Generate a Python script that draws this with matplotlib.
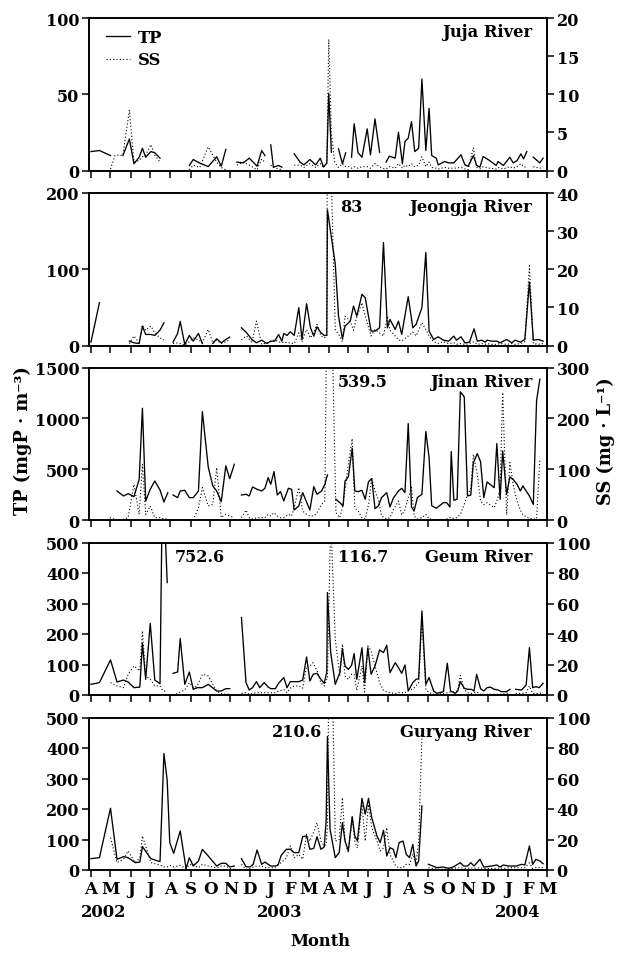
import numpy as np
import pandas as pd
import matplotlib
matplotlib.use('Agg')
import matplotlib.pyplot as plt
import matplotlib.transforms as mtransforms
from matplotlib.lines import Line2D

plt.rcParams['font.family'] = ['DejaVu Serif']
plt.rcParams['font.weight'] = 'bold'
plt.rcParams['font.size'] = 11

# ---- data (days since 1 April 2002, TP in mgP/m3, SS in mg/L) ----
month_labels = ['A', 'M', 'J', 'J', 'A', 'S', 'O', 'N', 'D', 'J', 'F', 'M',
                'A', 'M', 'J', 'J', 'A', 'S', 'O', 'N', 'D', 'J', 'F', 'M']
year_labels = ['2002', '2003', '2004']
year_days = [20, 290, 655]

juja_days = [0, 13, 30, 37, 43, 49, 59, 66, 74, 79,
             84, 92, 98, 106, 128, 151, 157, 167, 180, 193,
             200, 207, 215, 224, 234, 243, 255, 262, 267, 271,
             276, 280, 288, 293, 300, 312, 321, 327, 336, 345,
             352, 357, 362, 365, 369, 374, 380, 386, 391, 396,
             400, 404, 410, 416, 424, 429, 436, 443, 448, 453,
             458, 467, 472, 478, 482, 487, 492, 497, 503, 508,
             514, 519, 523, 530, 533, 543, 549, 557, 568, 574,
             579, 587, 592, 597, 602, 612, 622, 625, 633, 643,
             648, 654, 660, 664, 669, 674, 679, 689, 694]
juja_tp = [12.4, 13.1, 9.8, None, None, 9.8, 20.7, 4.4, 8.7, 14.6,
           8.7, 12.4, 11.6, 8.1, None, 3.3, 7.2, 4.8, 2.6, 9.0,
           2.8, 13.8, None, 5.5, 5.0, 8.1, 2.8, 13.1, 9.8, None,
           16.8, 2.2, 3.3, 2.2, None, 10.9, 5.5, 3.7, 7.2, 3.7,
           8.1, 2.2, 5.0, 50.6, 12.0, None, 14.2, 4.4, 11.6, None,
           8.7, 30.6, 11.6, 8.7, 27.3, 10.3, 33.8, 12.0, None, 5.5,
           9.4, 8.1, 25.1, 4.4, 19.0, 21.2, 32.1, 12.4, 14.6, 60.0,
           13.1, 40.8, 9.8, 8.1, 3.7, 5.9, 5.0, 5.0, 10.3, 3.7,
           2.8, 9.8, 3.3, 2.2, 9.2, 6.5, 3.3, 5.9, 3.3, 8.7,
           5.0, 6.5, 10.9, 7.6, 12.4, None, 8.7, 5.0, 8.1]
juja_ss = [None, None, 0.2, 2.0, 2.0, 2.0, 7.9, 1.1, 1.3, 1.8,
           2.0, 3.4, 2.0, 1.1, None, 0.1, 0.7, 0.4, 3.1, 1.1,
           0.4, 0.1, None, 0.7, 1.1, 0.7, 0.1, 1.5, 1.1, None,
           0.7, 0.4, 0.2, 0.1, None, 0.7, 0.7, 0.4, 0.9, 0.4,
           0.9, 0.4, 0.9, 17.2, 5.0, 1.1, 0.4, 0.9, 0.5, 0.5,
           0.3, 0.5, 0.3, 0.5, 0.5, 0.3, 0.9, 0.5, 0.3, 0.2,
           0.5, 0.3, 0.9, 0.3, 0.7, 0.5, 0.9, 0.5, 0.7, 1.8,
           0.5, 1.1, 0.4, 0.3, 0.2, 0.4, 0.3, 0.3, 0.4, 0.2,
           0.1, 3.0, 0.4, 0.2, 0.5, 0.3, 0.2, 0.4, 0.2, 0.5,
           0.3, 0.5, 0.9, 0.5, 0.4, None, 0.5, 0.3, 0.5]

jeongja_days = [0, 13, 30, 59, 66, 74, 79, 84, 92, 98,
                106, 112, 119, 126, 133, 137, 144, 151, 157, 165,
                171, 180, 187, 193, 200, 207, 213, 222, 231, 239,
                247, 254, 262, 270, 276, 282, 288, 293, 296, 301,
                306, 312, 319, 324, 331, 337, 342, 347, 353, 358,
                362, 363, 375, 380, 386, 390, 398, 403, 408, 416,
                421, 430, 436, 443, 449, 455, 459, 467, 472, 477,
                487, 494, 499, 508, 514, 519, 526, 533, 541, 549,
                557, 561, 568, 574, 581, 588, 593, 600, 605, 608,
                615, 623, 628, 638, 646, 651, 659, 666, 673, 679,
                687, 694]
jeongja_tp = [4.4, 56.1, None, 5.7, 3.5, 2.6, 25.4, 14.5, 14.5, 13.2,
              20.2, 29.8, None, 4.4, 15.8, 31.6, 1.3, 13.2, 5.7, 15.8,
              2.6, None, 2.6, 8.8, 3.5, 7.9, 11.0, None, 23.2, 16.7,
              7.9, 3.5, 7.0, 2.6, 5.7, 5.7, 14.5, 5.7, 15.8, 13.2,
              18.0, 13.2, 49.6, 7.9, 54.8, 23.2, 12.3, 24.6, 16.7, 13.2,
              13.2, 178.0, 106.6, 38.6, 8.8, 25.4, 32.0, 51.8, 38.6, 67.1,
              62.7, 18.9, 18.9, 23.2, 135.0, 23.2, 34.2, 21.0, 32.0, 14.5,
              64.0, 23.2, 27.6, 49.6, 122.0, 18.9, 7.9, 11.4, 7.0, 5.7,
              12.3, 7.0, 11.4, 3.5, 4.4, 21.9, 5.7, 7.0, 4.4, 7.0,
              5.7, 5.7, 3.5, 7.9, 3.5, 7.0, 4.4, 7.9, 83.3, 7.0,
              7.9, 5.7]
jeongja_ss = [None, None, None, 0.5, 2.5, 0.7, 5.3, 4.0, 5.1, 3.3,
              2.0, 1.5, None, 0.5, 0.7, 0.5, 0.1, 1.0, 2.0, 1.5,
              0.7, 4.2, 0.7, 1.5, 0.5, 1.0, 1.5, None, 1.5, 2.5,
              0.7, 6.4, 0.3, 0.7, 1.0, 1.5, 1.0, 0.7, 1.0, 0.7,
              0.7, 0.5, 3.3, 1.0, 4.2, 2.0, 3.5, 5.5, 2.5, 2.0,
              2.5, 83.0, 4.2, 3.0, 1.0, 7.7, 6.4, 4.0, 7.5, 11.2,
              7.7, 2.5, 4.2, 3.3, 2.5, 7.7, 4.0, 2.5, 1.5, 1.2,
              2.5, 3.5, 2.5, 6.0, 4.2, 2.5, 1.0, 0.5, 1.0, 0.5,
              0.7, 0.3, 0.5, 0.3, 0.5, 1.0, 0.3, 0.5, 0.3, 0.5,
              0.3, 0.3, 0.5, 0.3, 0.5, 0.3, 0.5, 1.0, 20.9, 0.5,
              0.3, 0.5]

jinan_days = [29, 40, 50, 57, 66, 74, 79, 84, 91, 98,
              106, 112, 118, 122, 126, 133, 137, 144, 151, 157,
              165, 171, 180, 187, 193, 200, 207, 213, 220, 225,
              231, 238, 243, 248, 255, 262, 267, 272, 276, 281,
              286, 291, 296, 303, 308, 312, 319, 325, 331, 336,
              342, 347, 354, 359, 363, 371, 376, 382, 387, 390,
              395, 401, 405, 410, 416, 421, 426, 431, 436, 441,
              446, 454, 459, 464, 472, 477, 482, 487, 492, 496,
              501, 508, 514, 519, 523, 530, 541, 546, 551, 553,
              557, 562, 567, 573, 578, 583, 587, 593, 598, 603,
              608, 619, 623, 628, 632, 638, 643, 648, 654, 659,
              663, 673, 679, 684, 689]
jinan_tp = [None, 285.5, 236, 259, 230, 400, 1099, 187, 302, 384,
            295, 177, 269, None, 246, 220, 285.5, 292, 220, 220,
            285.5, 1067, 522, 335, 285.5, 180.5, 532, 407, 548, None,
            246, 253, 236, 325, 302, 285.5, 312, 417, 351, 476,
            246, 279, 187, 312, 302, 98.5, 138, 269, 177, 98.5,
            328, 253, 285.5, 351, 443, None, 203.5, 170.7, 138, 384,
            423, 706, 285.5, 279, 292, 203.5, 377, 407, 111.6, 138,
            220, 269, 128, 213, 285.5, 312, 269, 948, 128, 88.6,
            220, 253, 870, 614, 141, 115, 171, 171, 128, 673,
            194, 203.5, 1260, 1211, 236, 246, 564.5, 653, 574, 220,
            374, 318, 751.6, 203.5, 679, 253, 423, 400, 351, 285.5,
            335, 236, 154, 1172, 1385]
jinan_ss = [4.6, 0, 1.3, 4.6, 70, 11, 109.6, 11, 27.6, 4.6,
            4.6, 2, 2, None, 0, 0, 0, 0, 0, 0,
            24.3, 63.7, 27.6, 30.8, 103, 4.6, 11, 7.9, 4.6, None,
            4.6, 19.7, 4.6, 2, 4.6, 4.6, 4.6, 11, 8, 14.4,
            8, 4.6, 4.6, 11, 8, 24.3, 63.7, 17.7, 11, 8,
            8, 14.4, 30.8, 37.4, 539.5, 320, 14.4, 4.6, 30.8, 60,
            110, 160, 24, 17.7, 4.6, 2, 30, 83, 57, 40.7,
            7.9, 2, 4.6, 20, 37.4, 10, 20, 44, 63.7, 8,
            2, 4.6, 11, 2, 2, 0, 0, 2, 4.6, 5,
            3, 5, 11, 30.8, 50.6, 60, 129, 90, 37.4, 30,
            34, 24.3, 37.4, 60, 250.8, 10, 113, 70, 37.4, 20,
            10, 3, 2, 2, 119.5]

geum_days = [0, 13, 30, 40, 50, 57, 66, 75, 79, 84,
             91, 98, 106, 110, 117, 121, 126, 133, 137, 144,
             151, 157, 163, 171, 180, 193, 200, 207, 213, 222,
             231, 238, 243, 248, 254, 259, 266, 272, 276, 283,
             288, 296, 301, 306, 312, 319, 325, 331, 336, 341,
             347, 353, 358, 362, 363, 368, 375, 382, 386, 390,
             395, 400, 404, 408, 416, 420, 425, 430, 436, 443,
             449, 454, 459, 467, 472, 477, 482, 487, 494, 499,
             503, 508, 514, 519, 526, 531, 541, 547, 552, 559,
             563, 567, 573, 578, 584, 588, 592, 598, 603, 608,
             613, 619, 625, 630, 638, 643, 648, 652, 661, 668,
             673, 678, 683, 688, 694]
geum_tp = [35, 40.5, 115, 42.7, 49, 42.7, 24, 26, 169.6, 51.4,
           235, 49, 37, 752.6, 368.7, None, 71, 75.5, 185, 35,
           75.5, 18.6, 24, 24, 35, 13, 13, 20.8, 20.8, None,
           253.8, 40.5, 16.4, 24, 43.8, 24, 40.5, 26, 20.8, 20.8,
           38.3, 57, 24, 43.8, 43.8, 43.8, 49, 124.7, 46, 67.8,
           71, 51.4, 38.3, 75.5, 335.9, 139, 35, 73.3, 152, 95,
           84, 97, 135.7, 51.4, 155, 40.5, 155, 67.8, 95, 147.7,
           139, 163, 73.3, 106, 89.7, 71, 98.5, 13, 40.5, 51.4,
           53.6, 275.7, 35, 57, 13, 5.5, 11, 104, 13, 5.5,
           13, 43.8, 21.9, 18.6, 18.6, 13, 67.8, 20.8, 13, 24,
           26, 18.6, 16.4, 11, 11, 18.6, None, 18.6, 16.4, 32.8,
           155.3, 24, 27.4, 24, 38.3]
geum_ss = [None, None, 8.1, 5.9, 4.8, 13.6, 19, 15.8, 42, 12.5,
           10.3, 6, 5.9, 3, 2, None, 0, 1, 2, 3.3,
           8.1, 4.8, 5.9, 13.6, 12.5, 2.5, 1, 0.5, 0.5, None,
           1, 1.5, 0.5, 1, 1.5, 1.5, 1.5, 1.5, 1.5, 1.5,
           2.5, 3.5, 1.5, 4.5, 5.9, 5.9, 4.5, 19, 19, 21.2,
           15.8, 8, 5.9, 10.3, 10.3, 116.7, 36.5, 12.5, 33.3, 12.5,
           10.3, 13.6, 13.6, 3, 19, 2, 32.2, 28.9, 19, 8.1,
           3, 2, 1.5, 1, 1.5, 1.5, 1.5, 3, 4, 6,
           8.1, 49.7, 3.5, 1.5, 0.5, 0.5, 1, 1.5, 2, 2,
           3, 12.9, 3.5, 1.5, 1, 1.5, 2, 0.5, 0.5, 0.5,
           0.5, 0.5, 0.5, 0.5, 1, 1.5, None, 1, 1, 1.5,
           5.9, 1, 1, 1, 1.5]

guryang_days = [0, 13, 30, 40, 50, 57, 68, 75, 79, 92,
                106, 112, 117, 121, 127, 137, 146, 151, 157, 165,
                171, 180, 193, 200, 207, 213, 220, 225, 231, 238,
                244, 249, 255, 262, 267, 276, 282, 287, 292, 300,
                306, 312, 319, 325, 331, 336, 342, 347, 353, 358,
                361, 363, 367, 375, 381, 386, 390, 395, 401, 405,
                409, 416, 421, 426, 431, 439, 444, 449, 454, 459,
                464, 468, 473, 479, 484, 489, 494, 499, 503, 508,
                513, 518, 531, 541, 549, 556, 561, 567, 572, 578,
                583, 588, 597, 603, 612, 623, 628, 633, 641, 646,
                653, 661, 666, 673, 678, 683, 689, 694]
guryang_tp = [37.2, 40.5, 202.4, 35, 43.8, 40.5, 24, 26, 76.6, 37.2,
              27.4, 381.8, 294.3, 89.7, 54.7, 128, 4.4, 40.5, 13, 29.5,
              67.8, 46, 13, 21.9, 21.9, 9.8, 13, None, 37.2, 11,
              9.8, 18.6, 65.6, 18.6, 26, 13, 13, 15.3, 48, 67.8,
              67.8, 57, 57, 109.4, 111.6, 67.8, 71, 109.4, 67.8, 75.5,
              160.8, 437.6, 133.5, 40.5, 57, 155.3, 95, 62.4, 175, 111.6,
              95, 235, 183, 235, 171.8, 111.6, 89.7, 130, 46, 73.3,
              67.8, 40.5, 89.7, 95, 51.4, 40.5, 84.2, 13, 29.5, 210,
              None, 18.6, 7.7, 9.8, 5.5, 9.8, 16.4, 24, 13, 13,
              24, 13, 35, 9.8, 12, 16.4, 9.8, 16.4, 13, 13,
              13, 18.6, 16.4, 78.8, 18.6, 35, 29.5, 20.8]
guryang_ss = [None, None, 21.2, 4.8, 7, 12.5, 4.8, 8, 22.3, 4.8,
              3.3, 2, 2, 3, 2, 3, 0.9, 3.5, 3.7, 1.5,
              3.7, 2.6, 1.5, 2.6, 2.6, 1, 0.5, None, 3.7, 0.5,
              0.9, 2, 2.6, 2.6, 1.5, 1.5, 1.5, 3.7, 4.8, 8,
              15.8, 8, 10.3, 7, 23.4, 19, 25, 31, 19, 15.8,
              16.8, 28.9, 210.6, 19, 20, 47.5, 19, 11.4, 34.4, 19,
              14.4, 43, 19, 43, 27.8, 19, 12.5, 14.4, 27.8, 10.3,
              5.9, 2.6, 1.5, 1.5, 3.7, 3.7, 10.3, 4.8, 19, 86.9,
              None, 1.5, 0.5, 0.5, 1, 1, 1.5, 1.5, 1, 1,
              1.5, 1, 1.5, 1, 1, 1, 1.5, 1, 1.5, 1.5,
              1.5, 1.5, 1.5, 4.8, 1, 1.5, 1.5, 1.5]

river_names = ['Juja River', 'Jeongja River', 'Jinan River', 'Geum River', 'Guryang River']
tp_limits = [100, 200, 1500, 500, 500]
ss_limits = [20, 40, 300, 100, 100]
tp_steps = [50, 100, 500, 100, 100]
ss_steps = [5, 10, 100, 20, 20]

# values beyond the axis range, written on the panels
offscale_panel = [1, 2, 3, 3, 4]
offscale_text = ['83', '539.5', '752.6', '116.7', '210.6']
offscale_day = [382, 379, 129, 379, 277]

series = [(juja_days, juja_tp, juja_ss), (jeongja_days, jeongja_tp, jeongja_ss),
          (jinan_days, jinan_tp, jinan_ss), (geum_days, geum_tp, geum_ss),
          (guryang_days, guryang_tp, guryang_ss)]

start = pd.Timestamp('2002-04-01')
month_ticks = (pd.date_range('2002-04-01', '2004-03-01', freq='MS') - start).days

# ---- figure ----
W, H = 633, 954
fig = plt.figure(figsize=(W / 100, H / 100), dpi=100)
panel_tops = [19, 194, 368.5, 543.5, 718.5]
ph = 152.5

axes = []
for i, (days, tp, ss) in enumerate(series):
    days = np.array(days, dtype=float)
    tp = np.array(tp, dtype=float)
    ss = np.array(ss, dtype=float)
    if not (len(days) == len(tp) == len(ss)):
        raise ValueError(f'length mismatch in panel {i}: {len(days)} {len(tp)} {len(ss)}')

    ax = fig.add_axes([89 / W, 1 - (panel_tops[i] + ph) / H, 458 / W, ph / H])
    ax2 = ax.twinx()
    ax.plot(days, tp, color='black', lw=0.95)
    ax2.plot(days, ss, color='black', lw=0.8, ls=(0, (1, 2)))

    ax.set_xlim(-3, 700)
    ax.set_ylim(0, tp_limits[i])
    ax.set_yticks(np.arange(0, tp_limits[i] + 1, tp_steps[i]))
    ax2.set_ylim(0, ss_limits[i])
    ax2.set_yticks(np.arange(0, ss_limits[i] + 1, ss_steps[i]))
    ax.set_xticks(month_ticks)
    if i == 4:
        ax.set_xticklabels(month_labels)
    else:
        ax.set_xticklabels([])

    for a in (ax, ax2):
        a.tick_params(direction='out', length=5, width=1.1, labelsize=11.5, pad=2)
        for s in a.spines.values():
            s.set_linewidth(1.2)
    ax.tick_params(axis='x', labelsize=12)

    ax.text(0.967, 0.91, river_names[i], transform=ax.transAxes,
            ha='right', va='center', fontsize=11.8)
    axes.append(ax)

for p, txt, d in zip(offscale_panel, offscale_text, offscale_day):
    ax = axes[p]
    tr = mtransforms.blended_transform_factory(ax.transData, ax.transAxes)
    ax.text(d, 0.91, txt, transform=tr, ha='left', va='center', fontsize=11.5)

# years under the month letters
trb = mtransforms.blended_transform_factory(axes[4].transData, axes[4].transAxes)
for y, d in zip(year_labels, year_days):
    axes[4].text(d, -0.275, y, transform=trb, ha='center', va='center', fontsize=11.8)

handles = [Line2D([], [], color='black', lw=0.95),
           Line2D([], [], color='black', lw=0.8, ls=(0, (1, 2)))]
axes[0].legend(handles, ['TP', 'SS'], loc='upper left', bbox_to_anchor=(0.038, 0.93),
               frameon=False, handlelength=1.45, handletextpad=0.5, labelspacing=0.35,
               borderpad=0, borderaxespad=0, fontsize=11.8)

fig.text(23 / W, 1 - 441 / H, 'TP (mgP \u00b7 m\u207b\u00b3)', rotation=90,
         ha='center', va='center', fontsize=12.8)
fig.text(606 / W, 1 - 441 / H, 'SS (mg \u00b7 L\u207b\u00b9)', rotation=90,
         ha='center', va='center', fontsize=12.8)
fig.text(320 / W, 1 - 942 / H, 'Month', ha='center', va='center', fontsize=11.8)

fig.savefig('out.png', dpi=100)
